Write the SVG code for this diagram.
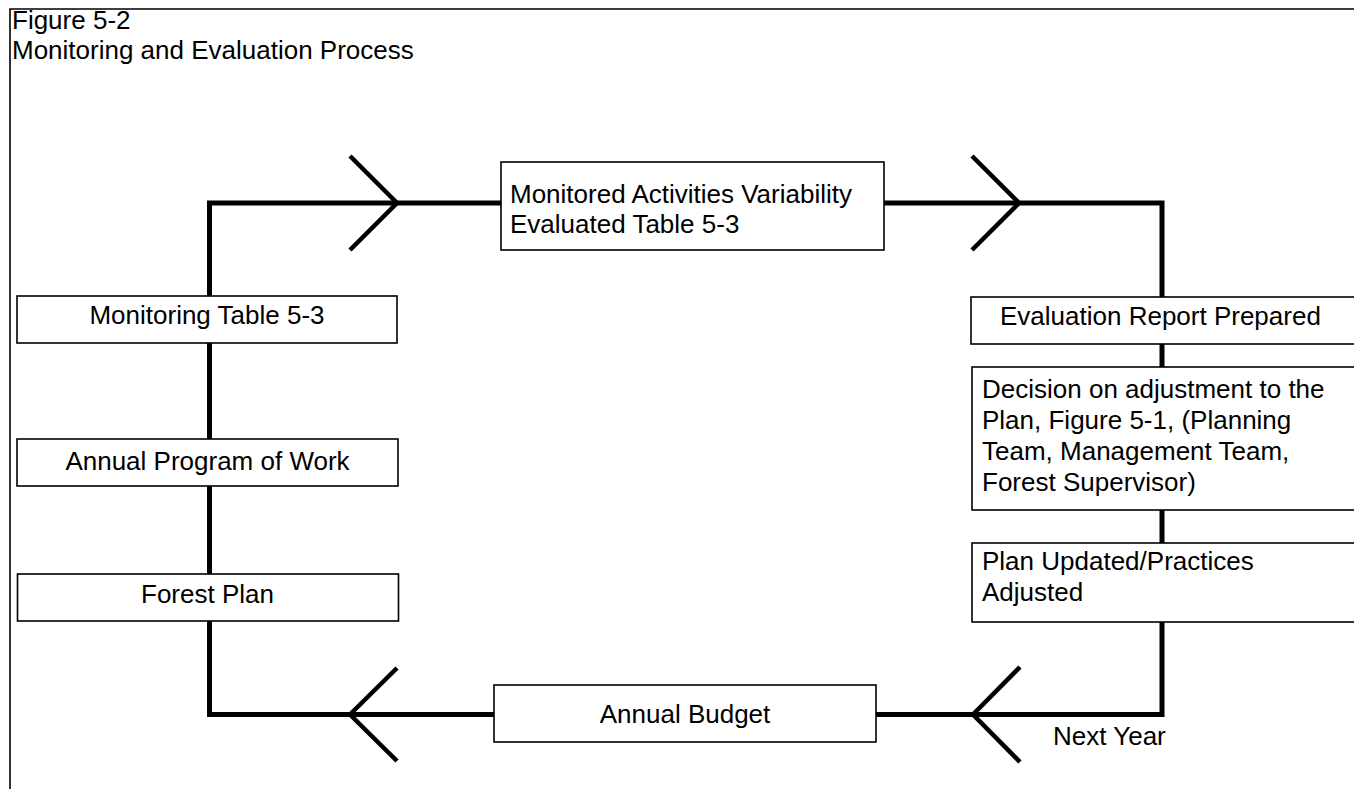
<svg xmlns="http://www.w3.org/2000/svg" width="1354" height="789" viewBox="0 0 1354 789">
<style>
.frame{fill:none;stroke:#000;stroke-width:1.6}
.loop{fill:none;stroke:#000;stroke-width:5;stroke-linejoin:miter}
.chev{fill:none;stroke:#000;stroke-width:4.5;stroke-linejoin:miter}
.box{fill:#fff;stroke:#000;stroke-width:1.6}
text{font-family:"Liberation Sans",Arial,Helvetica,sans-serif;font-size:26px;fill:#000}
.mid{text-anchor:middle}
</style>
<rect width="1354" height="789" fill="#fff"/>
<g id="frame">
<path class="frame" d="M10,789 V9 H1360"/>
<text x="12" y="29">Figure 5-2</text>
<text x="12" y="58.5">Monitoring and Evaluation Process</text>
</g>
<g id="connectors">
<path class="loop" d="M209.5,714.5 V203 H1162 V714.5 Z"/>
<path class="chev" d="M350,156 L397,203 L350,250"/>
<path class="chev" d="M972,156 L1019,203 L972,250"/>
<path class="chev" d="M397,668 L350,714.5 L397,761"/>
<path class="chev" d="M1020,667 L973,714.5 L1020,762"/>
</g>
<g id="node-monitored">
<rect class="box" x="501" y="162" width="383" height="88"/>
<text x="510" y="203">Monitored Activities Variability</text>
<text x="510" y="233">Evaluated Table 5-3</text>
</g>
<g id="node-evaluation-report">
<rect class="box" x="971" y="297" width="400" height="47"/>
<text x="1000" y="325">Evaluation Report Prepared</text>
</g>
<g id="node-decision">
<rect class="box" x="972" y="367" width="400" height="143"/>
<text x="982" y="398">Decision on adjustment to the</text>
<text x="982" y="429">Plan, Figure 5-1, (Planning</text>
<text x="982" y="460">Team, Management Team,</text>
<text x="982" y="491">Forest Supervisor)</text>
</g>
<g id="node-plan-updated">
<rect class="box" x="972" y="543" width="400" height="79"/>
<text x="982" y="570">Plan Updated/Practices</text>
<text x="982" y="601">Adjusted</text>
</g>
<g id="node-annual-budget">
<rect class="box" x="494" y="685" width="382" height="57"/>
<text class="mid" x="685" y="723">Annual Budget</text>
</g>
<g id="node-next-year">
<text x="1053" y="745">Next Year</text>
</g>
<g id="node-monitoring-table">
<rect class="box" x="17" y="296" width="380" height="47"/>
<text class="mid" x="207" y="324">Monitoring Table 5-3</text>
</g>
<g id="node-annual-program">
<rect class="box" x="17" y="439" width="381" height="47"/>
<text class="mid" x="207.5" y="470">Annual Program of Work</text>
</g>
<g id="node-forest-plan">
<rect class="box" x="17.5" y="574" width="381" height="47"/>
<text class="mid" x="207.5" y="603">Forest Plan</text>
</g>
</svg>
